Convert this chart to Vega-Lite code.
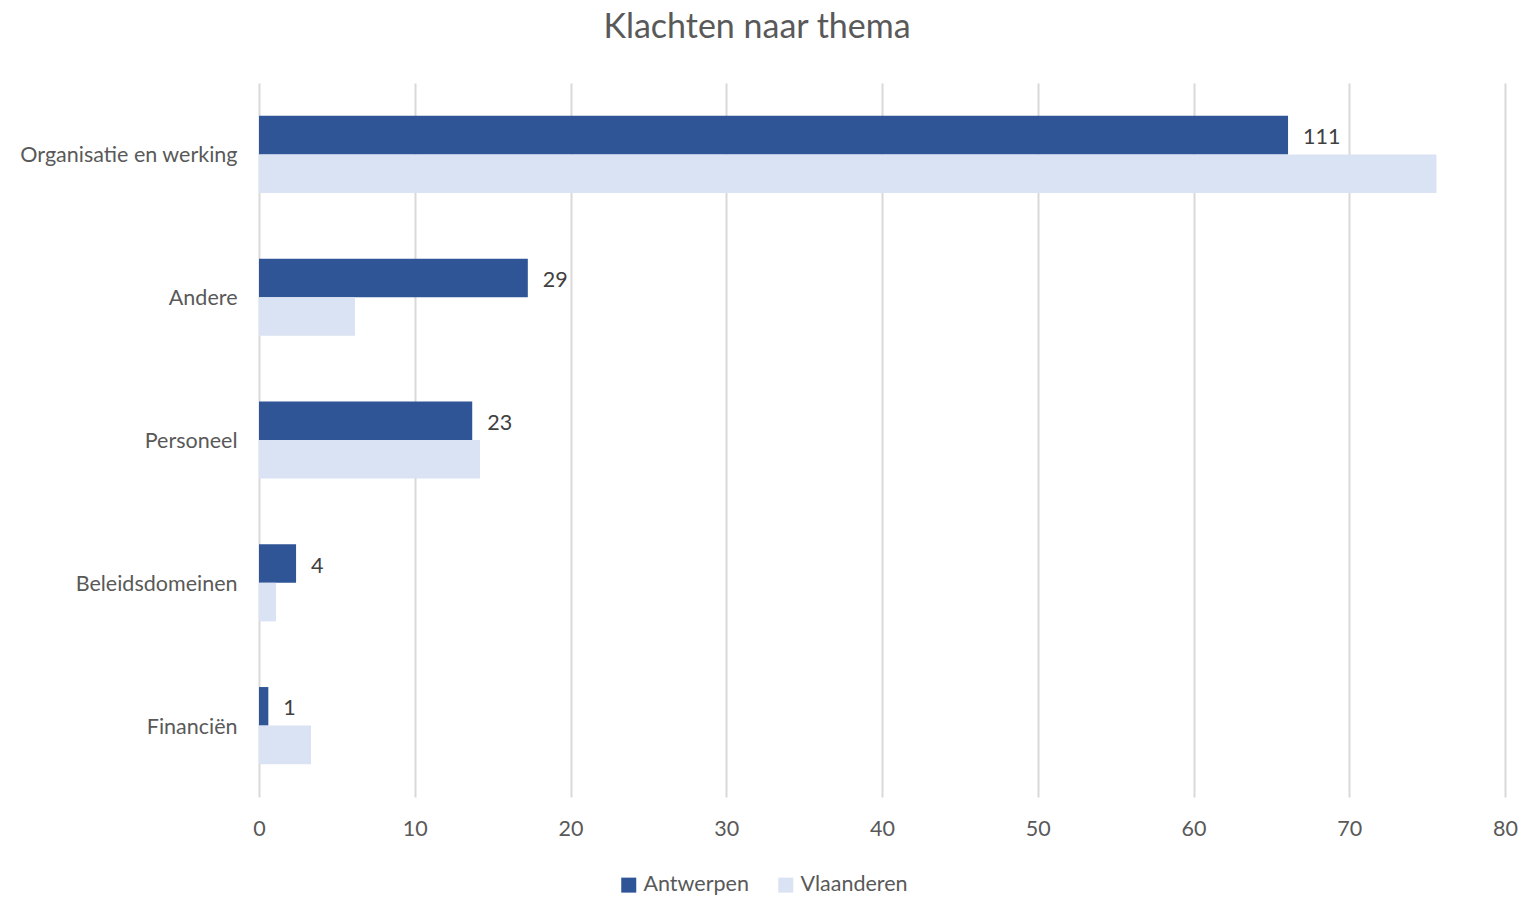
{
  "$schema": "https://vega.github.io/schema/vega-lite/v6.json",
  "width": 1246,
  "height": 714,
  "autosize": {"type": "none"},
  "padding": {"left": 259, "top": 83, "right": 20, "bottom": 100},
  "background": "white",
  "title": {
    "text": "Klachten naar thema",
    "anchor": "middle",
    "frame": "group",
    "dx": -125,
    "offset": 38,
    "font": "Lato",
    "fontSize": 34,
    "fontWeight": "normal",
    "color": "#595959"
  },
  "data": {
    "values": [
      {"thema": "Organisatie en werking", "regio": "Antwerpen", "pct": 66.07, "aantal": 111},
      {"thema": "Organisatie en werking", "regio": "Vlaanderen", "pct": 75.6},
      {"thema": "Andere", "regio": "Antwerpen", "pct": 17.26, "aantal": 29},
      {"thema": "Andere", "regio": "Vlaanderen", "pct": 6.16},
      {"thema": "Personeel", "regio": "Antwerpen", "pct": 13.69, "aantal": 23},
      {"thema": "Personeel", "regio": "Vlaanderen", "pct": 14.19},
      {"thema": "Beleidsdomeinen", "regio": "Antwerpen", "pct": 2.38, "aantal": 4},
      {"thema": "Beleidsdomeinen", "regio": "Vlaanderen", "pct": 1.09},
      {"thema": "Financiën", "regio": "Antwerpen", "pct": 0.6, "aantal": 1},
      {"thema": "Financiën", "regio": "Vlaanderen", "pct": 3.34}
    ]
  },
  "encoding": {
    "y": {
      "field": "thema",
      "type": "nominal",
      "sort": ["Organisatie en werking", "Andere", "Personeel", "Beleidsdomeinen", "Financiën"],
      "scale": {"paddingInner": 0.46, "paddingOuter": 0.23},
      "axis": {
        "title": null,
        "domain": false,
        "ticks": false,
        "labelFont": "Lato",
        "labelFontSize": 21.5,
        "labelColor": "#595959",
        "labelPadding": 22,
        "labelLimit": 0,
        "labelOffset": 2
      }
    },
    "yOffset": {
      "field": "regio",
      "type": "nominal",
      "sort": ["Antwerpen", "Vlaanderen"],
      "scale": {"paddingInner": 0, "paddingOuter": 0}
    }
  },
  "layer": [
    {
      "mark": {"type": "bar"},
      "encoding": {
        "x": {
          "field": "pct",
          "type": "quantitative",
          "scale": {"domain": [0, 80], "nice": false},
          "axis": {
            "title": null,
            "values": [0, 10, 20, 30, 40, 50, 60, 70, 80],
            "domain": false,
            "ticks": false,
            "grid": true,
            "gridColor": "#D9D9D9",
            "gridWidth": 2,
            "labelFont": "Lato",
            "labelFontSize": 21.5,
            "labelColor": "#595959",
            "labelPadding": 21,
            "labelFlush": false
          }
        },
        "color": {
          "field": "regio",
          "type": "nominal",
          "scale": {"domain": ["Antwerpen", "Vlaanderen"], "range": ["#2F5597", "#DAE3F3"]},
          "legend": {
            "title": null,
            "orient": "none",
            "direction": "horizontal",
            "legendX": 359,
            "legendY": 791,
            "symbolType": "square",
            "symbolSize": 225,
            "symbolStrokeWidth": 0,
            "symbolOpacity": 1,
            "labelFont": "Lato",
            "labelFontSize": 21.5,
            "labelColor": "#595959",
            "labelOffset": 4,
            "columnPadding": 26
          }
        }
      }
    },
    {
      "transform": [{"filter": "datum.regio === 'Antwerpen'"}],
      "mark": {"type": "text", "align": "left", "baseline": "middle", "dx": 15, "dy": 3, "font": "Lato", "fontSize": 21.5, "color": "#404040"},
      "encoding": {
        "x": {"field": "pct", "type": "quantitative"},
        "text": {"field": "aantal", "type": "quantitative"}
      }
    }
  ],
  "config": {"view": {"stroke": null}}
}
